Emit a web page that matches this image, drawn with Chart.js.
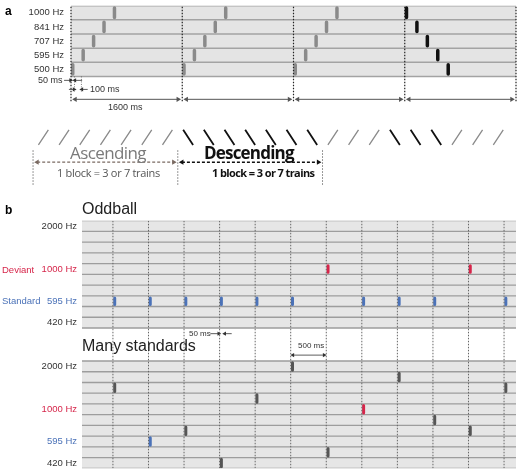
<!DOCTYPE html>
<html><head><meta charset="utf-8">
<script src="https://cdn.jsdelivr.net/npm/chart.js@4/dist/chart.umd.min.js"></script>
<style>
body{margin:0;width:520px;height:469px;position:relative;background:#fff;font-family:"Liberation Sans",Arial,sans-serif;overflow:hidden}
canvas{position:absolute;left:0}
.t{position:absolute;white-space:nowrap;line-height:1}
</style></head><body>
<canvas id="ca" width="520" height="121" style="top:-7px"></canvas>
<canvas id="cs" width="520" height="80" style="top:115px"></canvas>
<canvas id="cb" width="520" height="269" style="top:210px"></canvas>

<div class="t" style="left:5px;top:5px;font-weight:bold;font-size:12px">a</div>
<div class="t" style="left:38px;top:76px;font-size:9px;color:#333">50 ms</div>
<div class="t" style="left:90px;top:85px;font-size:9px;color:#333">100 ms</div>
<div class="t" style="left:108px;top:103px;font-size:9px;color:#333">1600 ms</div>
<div class="t" style="left:70px;top:144px;font-size:17px;color:#7a7a7a;font-family:'Open Sans',sans-serif;letter-spacing:-0.6px">Ascending</div>
<div class="t" style="left:204px;top:144px;font-size:17px;color:#111;font-weight:bold;font-family:'Open Sans',sans-serif;letter-spacing:-0.8px">Descending</div>
<div class="t" style="left:57px;top:167px;font-size:11px;color:#555;font-family:'Open Sans',sans-serif;letter-spacing:-0.3px">1 block = 3 or 7 trains</div>
<div class="t" style="left:212px;top:167px;font-size:11px;color:#111;font-weight:bold;font-family:'Open Sans',sans-serif;letter-spacing:-0.6px">1 block = 3 or 7 trains</div>
<div class="t" style="left:5px;top:204px;font-weight:bold;font-size:12px">b</div>
<div class="t" style="left:82px;top:201px;font-size:16px;color:#222">Oddball</div>
<div class="t" style="left:82px;top:338px;font-size:16px;color:#222">Many standards</div>
<div class="t" style="left:2px;top:265px;font-size:9.5px;color:#d6254a">Deviant</div>
<div class="t" style="left:2px;top:296px;font-size:9.5px;color:#4b72b8">Standard</div>
<div class="t" style="left:189px;top:330px;font-size:8px;color:#333">50 ms</div>
<div class="t" style="left:298px;top:342px;font-size:8px;color:#333">500 ms</div>

<script>
// ---------- data ----------
const freqA = ['500 Hz','595 Hz','707 Hz','841 Hz','1000 Hz'];
const trainStartsA = [0,1600,3200,4800,6400];
const trainDirA = ['asc','asc','asc','desc'];
const toneOffsetsA = [0,150,300,450,600];
const slashKinds = ['a','a','a','a','a','a','a','d','d','d','d','d','d','d','a','a','a','d','d','d','a','a','a'];
const colTimesB = [0,500,1000,1500,2000,2500,3000,3500,4000,4500,5000,5500];
const oddballRows = [2,2,2,2,2,2,5,2,2,2,5,2];
const manyRows = [7,2,3,0,6,9,1,5,8,4,3,7];
const rowLabelsB = {0:'420 Hz',2:'595 Hz',5:'1000 Hz',9:'2000 Hz'};

const FAM = "'Liberation Sans', Arial, sans-serif";
const BLUE='#4b72b8', RED='#d6254a';
const base = {responsive:false,animation:false,events:[],plugins:{legend:{display:false},tooltip:{enabled:false}}};
function segs(list){const out=[];list.forEach(s=>{out.push({x:s[0],y:s[1]},{x:s[2],y:s[3]},{x:s[2],y:null});});return out;}
function lineDs(data,color,w,extra){return Object.assign({type:'scatter',showLine:true,data,borderColor:color,borderWidth:w,pointRadius:0,spanGaps:false,fill:false},extra||{});}
function heads(pts,color,r){return {type:'scatter',showLine:false,data:pts.map(p=>({x:p[0],y:p[1]})),pointStyle:'triangle',pointRadius:r||3,pointRotation:pts.map(p=>p[2]),backgroundColor:color,borderColor:color,borderWidth:0,clip:false};}
const yCommon = {grid:{display:false,drawTicks:false},border:{display:false}};

// ---------- panel a ----------
const YMIN_A=-2.26, YMAX_A=4.5;
const grayT=[],blackT=[];
trainDirA.forEach((dir,ti)=>{const t0=trainStartsA[ti];toneOffsetsA.forEach((o,k)=>{
  const row = dir==='asc'?k:freqA.length-1-k;
  const x=t0+o+25; (dir==='asc'?grayT:blackT).push([x,row-0.33,x,row+0.33]);});});
const sepA=[];for(let k=0;k<=freqA.length;k++)sepA.push([0,k-0.5,6400,k-0.5]);
const arrA=trainDirA.map((d,i)=>[trainStartsA[i]+70,-2.12,trainStartsA[i]+1530,-2.12]);
const headA=[];trainDirA.forEach((d,i)=>{const t=trainStartsA[i];headA.push([t+60,-2.12,-90],[t+1540,-2.12,90]);});
const vertA=trainStartsA.map(t=>[t,YMIN_A,t,YMAX_A]);
new Chart(document.getElementById('ca'),{type:'scatter',data:{datasets:[
  lineDs([{x:0,y:4.5},{x:6400,y:4.5}],'rgba(0,0,0,0)',0,{fill:{target:{value:-0.5}},backgroundColor:'#e4e4e4',order:10}),
  lineDs(segs(sepA),'#a3a3a3',1.5,{order:5}),
  lineDs(segs(vertA),'#222',1.2,{borderDash:[1.5,1.5],clip:false}),
  lineDs(segs(grayT),'#8a8a8a',3.5,{borderCapStyle:'round'}),
  lineDs(segs(blackT),'#111',3.5,{borderCapStyle:'round'}),
  lineDs(segs(arrA),'#555',1),
  heads(headA,'#555',3),
  lineDs(segs([[-100,-0.78,-10,-0.78],[160,-0.78,60,-0.78],[-30,-1.42,40,-1.42],[240,-1.42,160,-1.42]]),'#333',0.8,{clip:false}),
  heads([[-6,-0.78,90],[56,-0.78,-90],[44,-1.42,90],[156,-1.42,-90]],'#333',2.5),
  lineDs(segs([[50,-0.5,50,-1.6],[150,-0.5,150,-1.6]]),'#555',0.8,{borderDash:[1,1.5]})
]},options:Object.assign({},base,{layout:{padding:{top:5,right:3,bottom:5,left:0}},scales:{
  x:{type:'linear',display:false,min:0,max:6400},
  y:Object.assign({type:'linear',min:YMIN_A,max:YMAX_A,afterBuildTicks:s=>{s.ticks=freqA.map((f,i)=>({value:i}));},afterFit:s=>{s.width=71;},
     ticks:{autoSkip:false,callback:v=>freqA[v],color:'#333',font:{size:9.5,family:FAM},padding:7}},yCommon)
}})});

// ---------- slashes ----------
const sa=[],sd=[];
slashKinds.forEach((k,i)=>{ if(k==='a') sa.push([i-0.24,6.4,i+0.24,8.5]); else sd.push([i-0.24,8.5,i+0.24,6.4]); });
new Chart(document.getElementById('cs'),{type:'scatter',data:{datasets:[
  lineDs(segs(sa),'#8a8a8a',1.3),
  lineDs(segs(sd),'#111',1.8),
  lineDs(segs([[-0.3,4,6.3,4]]),'#7a6a62',1.2,{borderDash:[3,2]}),
  heads([[-0.3,4,-90],[6.3,4,90]],'#7a6a62',3),
  lineDs(segs([[6.7,4,13.3,4]]),'#111',1.4,{borderDash:[3,2]}),
  heads([[6.7,4,-90],[13.3,4,90]],'#111',3),
  lineDs(segs([[-0.5,0.9,-0.5,5.8],[6.5,0.9,6.5,5.8],[13.5,0.9,13.5,5.8]]),'#333',1,{borderDash:[1,2]})
]},options:Object.assign({},base,{layout:{padding:0},scales:{
  x:{type:'linear',display:false,min:-1.905,max:22.857},
  y:{type:'linear',display:false,min:0,max:10}
}})});

// ---------- panel b ----------
const O=13.08, NR=10, XMIN_B=-435, XMAX_B=5668;
const tickVals=[];
Object.keys(rowLabelsB).forEach(r=>{tickVals.push(+r);tickVals.push(+r+O);});
function labelFor(v){const r=Math.round(v>=O-1?v-O:v);return rowLabelsB[r]||'';}
function colorFor(v){const r=Math.round(v>=O-1?v-O:v);return r===5?RED:(r===2?BLUE:'#333');}
const sepB=[];for(let k=0;k<=NR;k++){sepB.push([XMIN_B,k-0.5,XMAX_B,k-0.5]);sepB.push([XMIN_B,O+k-0.5,XMAX_B,O+k-0.5]);}
const vertB=colTimesB.map(t=>[t,-0.5,t,O+NR-0.5]);
const toneB={blue:[],red:[],gray:[]};
colTimesB.forEach((t,i)=>{
  const x=t+25;
  let r=oddballRows[i]; toneB[r===5?'red':'blue'].push([x,O+r-0.3,x,O+r+0.3]);
  r=manyRows[i]; toneB[r===5?'red':(r===2?'blue':'gray')].push([x,r-0.35,x,r+0.35]);
});
new Chart(document.getElementById('cb'),{type:'scatter',data:{datasets:[
  lineDs([{x:XMIN_B,y:NR-0.5},{x:XMAX_B,y:NR-0.5}],'rgba(0,0,0,0)',0,{fill:{target:{value:-0.5}},backgroundColor:'#e6e6e6',order:10}),
  lineDs([{x:XMIN_B,y:O+NR-0.5},{x:XMAX_B,y:O+NR-0.5}],'rgba(0,0,0,0)',0,{fill:{target:{value:O-0.5}},backgroundColor:'#e6e6e6',order:10}),
  lineDs(segs(sepB),'#9d9d9d',1.3,{order:5}),
  lineDs(segs(vertB),'#666',1,{borderDash:[1.5,1.5]}),
  lineDs(segs(toneB.blue),BLUE,3,{borderCapStyle:'round'}),
  lineDs(segs(toneB.red),RED,3,{borderCapStyle:'round'}),
  lineDs(segs(toneB.gray),'#555',3,{borderCapStyle:'round'}),
  lineDs(segs([[1370,12.05,1480,12.05],[1670,12.05,1580,12.05],[2540,10.05,2960,10.05]]),'#333',0.8),
  heads([[1488,12.05,90],[1572,12.05,-90],[2530,10.05,-90],[2970,10.05,90]],'#333',2.5)
]},options:Object.assign({},base,{layout:{padding:{top:5,right:3,bottom:1,left:0}},scales:{
  x:{type:'linear',display:false,min:XMIN_B,max:XMAX_B},
  y:Object.assign({type:'linear',min:-0.5,max:O+NR-0.5,afterBuildTicks:s=>{s.ticks=tickVals.map(v=>({value:v}));},afterFit:s=>{s.width=82;},
     ticks:{autoSkip:false,callback:v=>labelFor(v),color:c=>colorFor(c.tick.value),font:{size:9.5,family:FAM},padding:5}},yCommon)
}})});
</script></body></html>
